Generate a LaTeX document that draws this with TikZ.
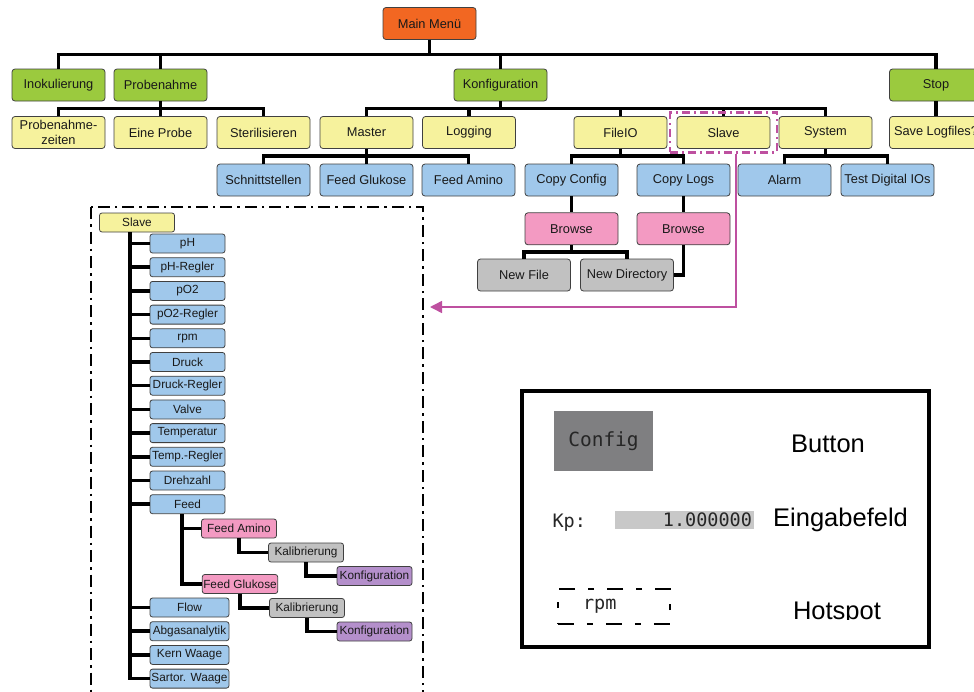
\documentclass[tikz,border=0pt]{standalone}
\usepackage{fontspec}
\setmainfont{Liberation Sans}
\newfontfamily\pixelfont{DejaVu Sans Mono}
\usepackage{tikz}
\usetikzlibrary{arrows.meta, positioning, fit}

\definecolor{menuorange}{RGB}{242,103,34}
\definecolor{groupgreen}{RGB}{155,202,62}
\definecolor{entryyellow}{RGB}{246,242,157}
\definecolor{leafblue}{RGB}{160,200,235}
\definecolor{browsepink}{RGB}{243,154,194}
\definecolor{dialoggrey}{RGB}{193,193,193}
\definecolor{konfpurple}{RGB}{180,143,203}
\definecolor{markmagenta}{RGB}{190,80,160}
\definecolor{buttongrey}{RGB}{127,127,129}
\definecolor{fieldgrey}{RGB}{200,200,200}

\begin{document}
\begin{tikzpicture}[
    x=1pt, y=-1pt,
    node distance=3.9pt,
    %% -- box styles ------------------------------------------------
    box/.style={
        rectangle, rounded corners=3pt,
        minimum width=93pt, minimum height=32pt,
        inner sep=1pt, align=center,
        draw=black!75, line width=0.8pt, text=black!90,
        font=\fontsize{12.8}{15.5}\selectfont
    },
    menubox/.style={box, fill=menuorange},
    groupbox/.style={box, fill=groupgreen},
    entrybox/.style={box, fill=entryyellow},
    leafbox/.style={box, fill=leafblue},
    browsebox/.style={box, fill=browsepink},
    dialogbox/.style={box, fill=dialoggrey},
    konfbox/.style={box, fill=konfpurple},
    slim/.style={
        minimum width=75pt, minimum height=19pt, rounded corners=2.5pt,
        font=\fontsize{11.8}{12}\selectfont
    },
    wide/.style={minimum width=79pt},
    %% -- lines -----------------------------------------------------
    link/.style={line width=3.5pt, draw=black},
    hilite/.style={
        draw=markmagenta, line width=2.5pt,
        dash pattern=on 8pt off 4pt on 2pt off 4pt,
        inner xsep=6.5pt, inner ysep=3.5pt
    },
    pinkarrow/.style={
        draw=markmagenta, line width=1.5pt,
        -{Triangle[length=12pt, width=12pt]}
    },
    frameline/.style={
        draw=black, line width=2.5pt,
        dash pattern=on 12pt off 5pt on 2.5pt off 5pt
    },
    %% -- legend ----------------------------------------------------
    pixel/.style={font=\pixelfont\fontsize{18.5}{20}\selectfont, text=black!85},
    cfgbutton/.style={
        rectangle, fill=buttongrey, minimum width=99pt, minimum height=60pt,
        pixel, font=\pixelfont\fontsize{19.5}{20}\selectfont
    },
    entryfield/.style={
        rectangle, fill=fieldgrey, pixel,
        text width=135pt, inner xsep=2pt, inner ysep=0pt,
        minimum height=18pt, align=right
    },
    hotspot/.style={
        rectangle, minimum height=35pt, text width=62pt, inner xsep=25pt,
        align=left, pixel
    },
    hotline/.style={
        draw=black, line width=1.5pt,
        dash pattern=on 16pt off 13pt on 6pt off 13pt on 16pt off 13pt
                     on 6pt off 13pt on 16pt off 14.5pt on 6pt off 14.5pt
    },
    biglabel/.style={font=\fontsize{25.5}{26}\selectfont, inner sep=0pt}
]

\path[use as bounding box, clip] (0,0) rectangle (974,691);

%% -- Top menu tree ------------------------------------------------
\node (main)      [menubox]  at (429.5,23.5) {Main Menü};

\node (inok)      [groupbox] at (58.5,85)    {Inokulierung};
\node (proben)    [groupbox] at (160.5,85)   {Probenahme};
\node (konfig)    [groupbox] at (500.5,85)   {Konfiguration};
\node (stop)      [groupbox] at (936,85)     {Stop};

\node (pzeiten)   [entrybox] at (58.5,132.5)  {Probenahme-\\zeiten};
\node (eineprobe) [entrybox] at (160.5,132.5) {Eine Probe};
\node (steril)    [entrybox] at (263.5,132.5) {Sterilisieren};
\node (master)    [entrybox] at (366.5,132.5) {Master};
\node (logging)   [entrybox] at (469,132.5)   {Logging};
\node (fileio)    [entrybox] at (620.5,132.5) {FileIO};
\node (slavebtn)  [entrybox] at (723.5,132.5) {Slave};
\node (system)    [entrybox] at (825.5,132.5) {System};
\node (savelog)   [entrybox] at (936,132.5)   {Save Logfiles?};

\node (schnitt)   [leafbox]  at (263.5,180) {Schnittstellen};
\node (feedglu)   [leafbox]  at (366.5,180) {Feed Glukose};
\node (feedami)   [leafbox]  at (468.5,180) {Feed Amino};
\node (copycfg)   [leafbox]  at (571.5,180) {Copy Config};
\node (copylogs)  [leafbox]  at (683.5,180) {Copy Logs};
\node (alarm)     [leafbox]  at (784.5,180) {Alarm};
\node (testio)    [leafbox]  at (887.5,180) {Test Digital IOs};

\node (browsea)   [browsebox, below=16pt of copycfg]  {Browse};
\node (browseb)   [browsebox, below=16pt of copylogs] {Browse};
\node (newfile)   [dialogbox] at (524,275) {New File};
\node (newdir)    [dialogbox] at (627,275) {New Directory};

%% -- Tree connectors ---------------------------------------------
\foreach \n in {inok, proben, konfig, stop}
    \draw [link] (main.south) -- ++(0,-14.5pt) -| (\n.north);
\foreach \n in {pzeiten, eineprobe, steril}
    \draw [link] (proben.south) -- ++(0,-7pt) -| (\n.north);
\foreach \n in {master, logging, fileio, slavebtn, system}
    \draw [link] (konfig.south) -- ++(0,-7pt) -| (\n.north);
\draw [link] (stop) -- (savelog);
\foreach \n in {schnitt, feedglu, feedami}
    \draw [link] (master.south) -- ++(0,-7pt) -| (\n.north);
\foreach \n in {copycfg, copylogs}
    \draw [link] (fileio.south) -- ++(0,-7pt) -| (\n.north);
\foreach \n in {alarm, testio}
    \draw [link] (system.south) -- ++(0,-7pt) -| (\n.north);
\draw [link] (copycfg)  -- (browsea);
\draw [link] (copylogs) -- (browseb);
\foreach \n in {newfile, newdir}
    \draw [link] (browsea.south) -- ++(0,-7pt) -| (\n.north);
\draw [link] (browseb.south) |- (newdir.east);

%% -- Slave marker and jump to the detail frame -------------------
\node (slavemark) [hilite, fit=(slavebtn)] {};
\coordinate (slavein) at (430,307);
\draw [pinkarrow] ([xshift=12.5pt]slavemark.south) |- (slavein);

%% -- Slave detail -------------------------------------------------
\draw [frameline] (91,207) rectangle (423,705);

\node (slave)    [entrybox, slim] at (137,222.5) {Slave};
\node (ph)       [leafbox, slim]  at (187.5,243.5) {pH};
\node (phreg)    [leafbox, slim, below=of ph]       {pH-Regler};
\node (poz)      [leafbox, slim, below=of phreg]    {pO2};
\node (pozreg)   [leafbox, slim, below=of poz]      {pO2-Regler};
\node (rpm)      [leafbox, slim, below=of pozreg]   {rpm};
\node (druck)    [leafbox, slim, below=of rpm]      {Druck};
\node (druckreg) [leafbox, slim, below=of druck]    {Druck-Regler};
\node (valve)    [leafbox, slim, below=of druckreg] {Valve};
\node (temp)     [leafbox, slim, below=of valve]    {Temperatur};
\node (tempreg)  [leafbox, slim, below=of temp]     {Temp.-Regler};
\node (drehzahl) [leafbox, slim, below=of tempreg]  {Drehzahl};
\node (feed)     [leafbox, slim, below=of drehzahl] {Feed};

\node (sfeedami) [browsebox, slim] at (239,528.5) {Feed Amino};
\node (kaliba)   [dialogbox, slim] at (306,552.5) {Kalibrierung};
\node (konfa)    [konfbox, slim]   at (374.5,576) {Konfiguration};
\node (sfeedglu) [browsebox, slim] at (240,584)   {Feed Glukose};
\node (kalibb)   [dialogbox, slim] at (307,608)   {Kalibrierung};
\node (konfb)    [konfbox, slim]   at (374.5,631.5) {Konfiguration};

\node (flow)     [leafbox, slim, wide] at (189.5,607.5) {Flow};
\node (abgas)    [leafbox, slim, wide, below=of flow]  {Abgasanalytik};
\node (kern)     [leafbox, slim, wide, below=of abgas] {Kern Waage};
\node (sartor)   [leafbox, slim, wide, below=of kern]  {Sartor. Waage};

\coordinate (trunk) at (130,232);
\foreach \n in {ph, phreg, poz, pozreg, rpm, druck, druckreg, valve,
                temp, tempreg, drehzahl, feed, flow, abgas, kern, sartor}
    \draw [link] (trunk) |- (\n.west);
\coordinate (feedtrunk) at (182,514);
\draw [link] (feedtrunk) |- (sfeedami.west);
\draw [link] (feedtrunk) |- (sfeedglu.west);
\draw [link] (sfeedami.south) |- (kaliba.west);
\draw [link] (kaliba.south)   |- (konfa.west);
\draw [link] (sfeedglu.south) |- (kalibb.west);
\draw [link] (kalibb.south)   |- (konfb.west);

%% -- Legend -------------------------------------------------------
\draw [line width=4pt] (522,391) rectangle (929,647);
\node (cfgbtn)     [cfgbutton]          at (603.5,441) {Config};
\node (btnlabel)   [biglabel]           at (828,444)   {Button};
\node (kplabel)    [pixel, anchor=west] at (549,523)   {Kp:};
\node (kpfield)    [entryfield]         at (684.5,520) {1.000000};
\node (fieldlabel) [biglabel, anchor=west] at (773,520) {Eingabefeld};
\node (hot)        [hotspot]            at (614,606.5) {\raisebox{-2pt}{rpm}};
\draw [hotline] (hot.south west) -- (hot.south east) -- (hot.north east)
                -- (hot.north west) -- cycle;
\begin{scope}
    \clip (780,585) rectangle (900,619);
    \node (hotlabel) [biglabel, anchor=base] at (837,619) {Hotspot};
\end{scope}

\end{tikzpicture}
\end{document}
